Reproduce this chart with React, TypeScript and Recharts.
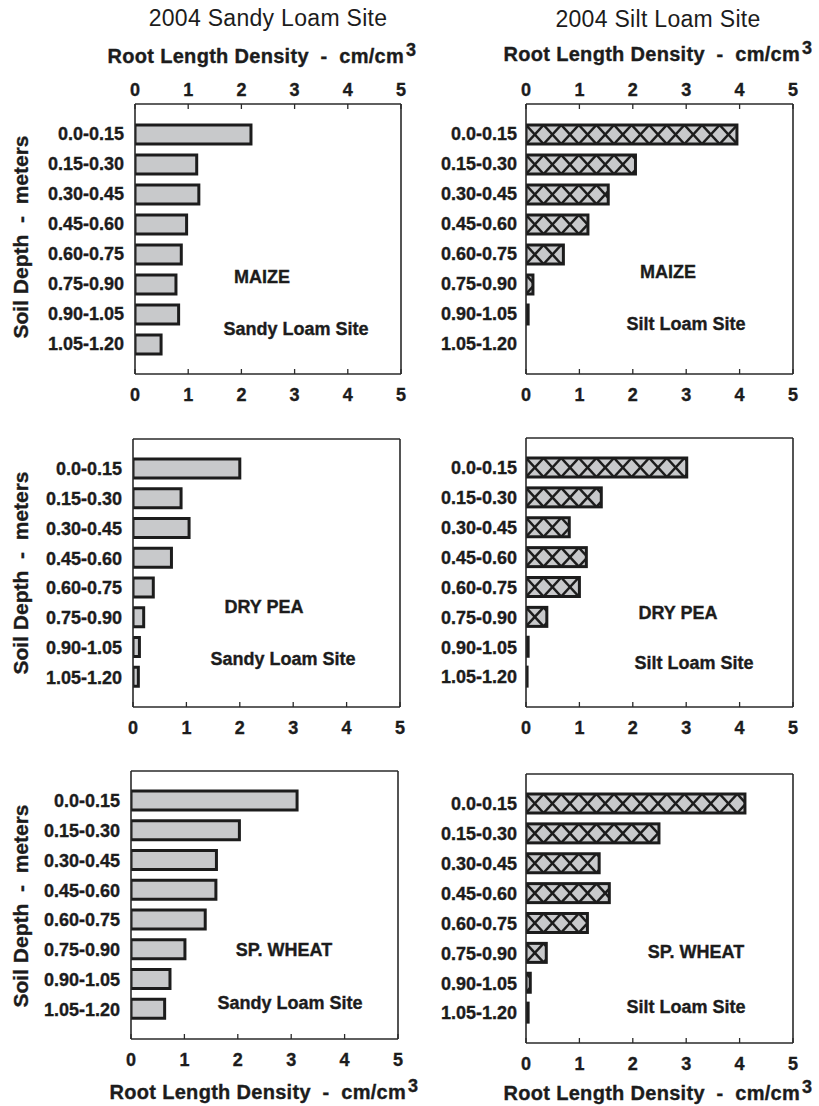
import React from 'react';
import { BarChart, Bar, XAxis, YAxis } from 'recharts';

// ---------- data ----------
const depthLabels = ['0.0-0.15', '0.15-0.30', '0.30-0.45', '0.45-0.60', '0.60-0.75', '0.75-0.90', '0.90-1.05', '1.05-1.20'];
const xTicks = [0, 1, 2, 3, 4, 5];

const maizeSandy = [2.18, 1.16, 1.2, 0.97, 0.87, 0.77, 0.82, 0.49];
const maizeSilt = [3.95, 2.05, 1.54, 1.16, 0.7, 0.13, 0.04, 0];
const peaSandy = [2.0, 0.9, 1.05, 0.72, 0.38, 0.2, 0.12, 0.1];
const peaSilt = [3.01, 1.41, 0.81, 1.13, 1.0, 0.39, 0.04, 0.02];
const wheatSandy = [3.11, 2.03, 1.6, 1.59, 1.39, 1.01, 0.73, 0.63];
const wheatSilt = [4.1, 2.49, 1.37, 1.56, 1.15, 0.38, 0.08, 0.04];

const siteTitles = ['2004 Sandy Loam Site', '2004 Silt Loam Site'];
const siteLabels = ['Sandy Loam Site', 'Silt Loam Site'];
const cropLabels = ['MAIZE', 'DRY PEA', 'SP. WHEAT'];
const xAxisTitle = 'Root Length Density  -  cm/cm';
const yAxisTitle = 'Soil Depth  -  meters';

type Row = { depth: string; rld: number };
const toRows = (vals: number[]): Row[] => depthLabels.map((d, i) => ({ depth: d, rld: vals[i] }));

// ---------- style ----------
const FONT = '"Liberation Sans", Arial, Helvetica, sans-serif';
const INK = '#1c1c1c';
const FRAME = '#2a2a2a';
const FILL = '#c8c9cb';

const xTickStyle = { fontSize: 18, fontWeight: 'bold', fill: INK, stroke: INK, strokeWidth: 0.35, fontFamily: FONT };
const yTickStyle = { fontSize: 18, fontWeight: 'bold', fill: INK, stroke: INK, strokeWidth: 0.35, fontFamily: FONT };

function HatchBar(props: any) {
  const { x, y, width, height, panel } = props;
  if (!width || width <= 0 || !height) return null;
  const id = `clip-${panel}-${Math.round(y)}`;
  const cell = 17.6;
  const lines: any[] = [];
  for (let k = 0; k * cell < width; k++) {
    const x0 = x + k * cell;
    lines.push(<line key={'a' + k} x1={x0} y1={y} x2={x0 + cell} y2={y + height} />);
    lines.push(<line key={'b' + k} x1={x0 + cell} y1={y} x2={x0} y2={y + height} />);
  }
  return (
    <g>
      <defs>
        <clipPath id={id}>
          <rect x={x} y={y} width={width} height={height} />
        </clipPath>
      </defs>
      <rect x={x} y={y} width={width} height={height} fill={FILL} />
      <g clipPath={`url(#${id})`} stroke={INK} strokeWidth={2.5}>
        {lines}
      </g>
      <rect x={x} y={y} width={width} height={height} fill="none" stroke={INK} strokeWidth={3} />
    </g>
  );
}

type PanelProps = {
  id: string;
  left: number;
  top: number;
  w: number;
  h: number;
  values: number[];
  hatched: boolean;
  topLabels: boolean;
  yGap: number;
};

function Panel({ id, left, top, w, h, values, hatched, topLabels, yGap }: PanelProps) {
  const ML = 125;
  const MR = 7;
  const MT = 29;
  const MB = 39;
  const data = toRows(values);
  const axisLine = { stroke: FRAME, strokeWidth: 1.6 };
  const tickLine = { stroke: FRAME, strokeWidth: 1.3 };
  return (
    <div style={{ position: 'absolute', left: left - ML, top: top - MT - 1 }}>
      <BarChart
        width={ML + w + MR + 1}
        height={MT + 1 + h + 1 + MB}
        data={data}
        layout="vertical"
        margin={{ top: MT, right: MR, bottom: MB, left: 0 }}
        barCategoryGap={0}
      >
        <XAxis
          xAxisId="top"
          orientation="top"
          type="number"
          domain={[0, 5]}
          ticks={xTicks}
          allowDataOverflow
          height={1}
          tickSize={-5}
          tickMargin={13.5}
          tick={topLabels ? xTickStyle : false}
          axisLine={axisLine}
          tickLine={tickLine}
        />
        <XAxis
          xAxisId="bottom"
          orientation="bottom"
          type="number"
          domain={[0, 5]}
          ticks={xTicks}
          allowDataOverflow
          height={1}
          tickSize={-5}
          tickMargin={19}
          tick={xTickStyle}
          axisLine={axisLine}
          tickLine={tickLine}
        />
        <YAxis
          yAxisId="left"
          type="category"
          dataKey="depth"
          width={ML}
          interval={0}
          tickLine={false}
          tickSize={0}
          tickMargin={yGap}
          padding={{ top: 15, bottom: 15 }}
          axisLine={axisLine}
          tick={yTickStyle}
        />
        <YAxis
          yAxisId="right"
          orientation="right"
          type="category"
          dataKey="depth"
          width={1}
          tick={false}
          tickLine={false}
          padding={{ top: 15, bottom: 15 }}
          axisLine={axisLine}
        />
        <Bar
          dataKey="rld"
          xAxisId="bottom"
          yAxisId="left"
          barSize={19}
          isAnimationActive={false}
          fill={FILL}
          stroke={INK}
          strokeWidth={3}
          shape={hatched ? (p: any) => <HatchBar {...p} panel={id} /> : undefined}
        />
      </BarChart>
    </div>
  );
}

function Txt({ x, y, children, size = 18, weight = 'bold', spacing = 0, rotate = false }: any) {
  return (
    <div
      style={{
        position: 'absolute',
        left: x,
        top: y,
        transform: `translate(-50%, -50%)${rotate ? ' rotate(-90deg)' : ''}`,
        fontFamily: FONT,
        fontSize: size,
        fontWeight: weight,
        letterSpacing: spacing,
        lineHeight: 1,
        whiteSpace: 'pre',
        color: INK,
        WebkitTextStroke: weight === 'bold' ? `0.35px ${INK}` : undefined,
      }}
    >
      {children}
    </div>
  );
}

function AxisTitle({ x, y }: { x: number; y: number }) {
  return (
    <Txt x={x} y={y} size={20} spacing={0.3}>
      {xAxisTitle}
      <span style={{ fontSize: 18, position: 'relative', top: -7, marginLeft: 2 }}>3</span>
    </Txt>
  );
}

export default function App() {
  return (
    <div style={{ position: 'absolute', left: 0, top: 0, width: 819, height: 1106, background: '#fff', overflow: 'hidden' }}>
      <Panel id="tl" left={135} top={104} w={266} h={270} values={maizeSandy} hatched={false} topLabels yGap={11} />
      <Panel id="tr" left={526} top={104} w={267} h={270} values={maizeSilt} hatched topLabels yGap={9} />
      <Panel id="ml" left={133} top={439} w={267} h={268} values={peaSandy} hatched={false} topLabels={false} yGap={11} />
      <Panel id="mr" left={526} top={438} w={267} h={269} values={peaSilt} hatched topLabels={false} yGap={9} />
      <Panel id="bl" left={131} top={771} w={267} h={268} values={wheatSandy} hatched={false} topLabels={false} yGap={11} />
      <Panel id="br" left={526} top={774} w={267} h={269} values={wheatSilt} hatched topLabels={false} yGap={9} />

      <Txt x={268} y={18} size={23} weight="normal" spacing={0.3}>{siteTitles[0]}</Txt>
      <Txt x={658} y={19} size={23} weight="normal" spacing={0.3}>{siteTitles[1]}</Txt>

      <AxisTitle x={262} y={56} />
      <AxisTitle x={658} y={54} />
      <AxisTitle x={264} y={1092} />
      <AxisTitle x={658} y={1093} />

      <Txt x={20} y={237} size={21} rotate>{yAxisTitle}</Txt>
      <Txt x={20} y={573} size={21} rotate>{yAxisTitle}</Txt>
      <Txt x={20} y={906} size={21} rotate>{yAxisTitle}</Txt>

      <Txt x={262} y={277}>{cropLabels[0]}</Txt>
      <Txt x={296} y={329}>{siteLabels[0]}</Txt>
      <Txt x={668} y={272}>{cropLabels[0]}</Txt>
      <Txt x={686} y={324}>{siteLabels[1]}</Txt>

      <Txt x={264} y={607}>{cropLabels[1]}</Txt>
      <Txt x={283} y={659}>{siteLabels[0]}</Txt>
      <Txt x={678} y={613}>{cropLabels[1]}</Txt>
      <Txt x={694} y={663}>{siteLabels[1]}</Txt>

      <Txt x={284} y={950}>{cropLabels[2]}</Txt>
      <Txt x={290} y={1003}>{siteLabels[0]}</Txt>
      <Txt x={696} y={952}>{cropLabels[2]}</Txt>
      <Txt x={686} y={1007}>{siteLabels[1]}</Txt>
    </div>
  );
}
